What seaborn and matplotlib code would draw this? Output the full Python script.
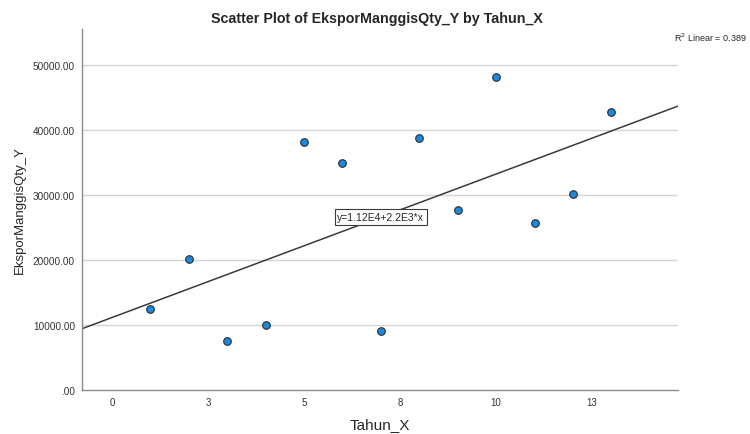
import numpy as np
import pandas as pd
import matplotlib
matplotlib.use("Agg")
import matplotlib.pyplot as plt
import seaborn as sns

# data
tahun = [1, 2, 3, 4, 5, 6, 7, 8, 9, 10, 11, 12, 13]
ekspor = [12500, 20100, 7600, 10000, 38200, 34900, 9100,
          38800, 27700, 48100, 25600, 30200, 42800]

x_ticks = [0, 2.5, 5, 7.5, 10, 12.5]
x_tick_labels = ["0", "3", "5", "8", "10", "13"]
y_ticks = [0, 10000, 20000, 30000, 40000, 50000]
y_tick_labels = [".00", "10000.00", "20000.00", "30000.00", "40000.00", "50000.00"]

df = pd.DataFrame({"Tahun_X": tahun, "EksporManggisQty_Y": ekspor})

sns.set_style("white")
plt.rcParams["font.family"] = ["Liberation Sans", "DejaVu Sans"]

fig = plt.figure(figsize=(7.5, 4.35), dpi=100)
ax = fig.add_axes([0.1093, 0.1011, 0.795, 0.830])

ax.set_xlim(-0.78, 14.74)
ax.set_ylim(0, 55500)

# horizontal grid lines
for yt in y_ticks[1:]:
    ax.axhline(yt, color="#d4d4d4", linewidth=1.0, zorder=0)

# fit line across the whole axis (truncate=False uses current xlim)
sns.regplot(data=df, x="Tahun_X", y="EksporManggisQty_Y", scatter=False,
            ci=None, truncate=False, ax=ax,
            line_kws={"color": "#3a3a3a", "linewidth": 1.1, "zorder": 2})

sns.scatterplot(data=df, x="Tahun_X", y="EksporManggisQty_Y", ax=ax,
                s=30, color="#1a8ae0", edgecolor="#2b2b2b", linewidth=0.8,
                zorder=3)

ax.set_xlim(-0.78, 14.74)
ax.set_ylim(0, 55500)

ax.set_xticks(x_ticks)
ax.set_xticklabels(x_tick_labels, fontsize=7, color="#333333")
ax.set_yticks(y_ticks)
ax.set_yticklabels(y_tick_labels, fontsize=7.2, color="#333333")
ax.tick_params(length=0, pad=5)

for side in ["top", "right"]:
    ax.spines[side].set_visible(False)
for side in ["left", "bottom"]:
    ax.spines[side].set_color("#8a8a8a")
    ax.spines[side].set_linewidth(1.0)

ax.set_xlabel("Tahun_X", fontsize=11, labelpad=7)
ax.set_ylabel("EksporManggisQty_Y", fontsize=9.5, labelpad=5)

# equation label at the centroid
ax.text(np.mean(tahun), np.mean(ekspor), "y=1.12E4+2.2E3*x",
        fontsize=7.5, ha="center", va="center", zorder=4,
        bbox=dict(boxstyle="square,pad=0.25", facecolor="white",
                  edgecolor="#3a3a3a", linewidth=0.8))

fig.text(0.5027, 0.956, "Scatter Plot of EksporManggisQty_Y by Tahun_X",
         fontsize=10.3, fontweight="bold", ha="center", va="center")
fig.text(0.995, 0.913, "R$^2$ Linear = 0.389", fontsize=6.5,
         ha="right", va="center")

fig.savefig("out.png", dpi=100)
